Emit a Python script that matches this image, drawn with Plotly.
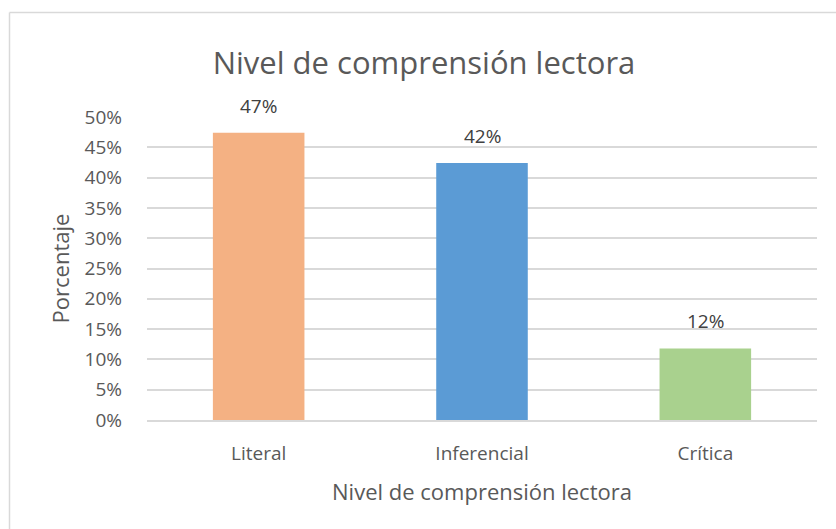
import plotly.graph_objects as go

categories = ["Literal", "Inferencial", "Crítica"]
values = [0.474, 0.424, 0.118]
labels = ["47%", "42%", "12%"]
colors = ["#F4B183", "#5B9BD5", "#A9D18E"]
y_ticks = [0, 0.05, 0.10, 0.15, 0.20, 0.25, 0.30, 0.35, 0.40, 0.45, 0.50]
y_tick_text = ["0%", "5%", "10%", "15%", "20%", "25%", "30%", "35%", "40%", "45%", "50%"]

FONT = "Open Sans, Noto Sans, sans-serif"
GREY = "#595959"

fig = go.Figure()
fig.add_trace(go.Bar(
    x=categories, y=values, marker=dict(color=colors, line=dict(width=0)),
    hoverinfo="skip", showlegend=False,
))

for c, v, t in zip(categories, values, labels):
    fig.add_annotation(x=c, y=v, text=t, showarrow=False, yanchor="middle", yshift=27,
                       font=dict(family=FONT, size=19, color="#404040"))

W, H = 836, 529
L, R, T, B = 147, 19, 117, 109
pw, ph = W - L - R, H - T - B

def px(x):
    return (x - L) / pw

def py(y):
    return (H - B - y) / ph

fig.add_shape(type="line", xref="paper", yref="paper", x0=px(9.5), x1=px(836), y0=py(12.5), y1=py(12.5),
              line=dict(color="#D9D9D9", width=1.5))
fig.add_shape(type="line", xref="paper", yref="paper", x0=px(9.5), x1=px(9.5), y0=py(12.5), y1=py(529),
              line=dict(color="#D9D9D9", width=1.5))

fig.update_layout(
    width=W, height=H,
    margin=dict(l=L, r=R, t=T, b=B, pad=0),
    paper_bgcolor="white", plot_bgcolor="white",
    bargap=0.59,
    title=dict(text="Nivel de comprensión lectora", x=(424) / W, xanchor="center",
               y=1 - 63 / H, yanchor="middle", font=dict(family=FONT, size=31, color=GREY)),
    font=dict(family=FONT, color=GREY),
    xaxis=dict(
        title=dict(text="Nivel de comprensión lectora", font=dict(family=FONT, size=22, color=GREY), standoff=20),
        tickfont=dict(family=FONT, size=19, color=GREY),
        showline=True, linecolor="#D9D9D9", linewidth=1.5,
        ticks="", ticklabelstandoff=15, showgrid=False,
    ),
    yaxis=dict(
        title=dict(text="Porcentaje", font=dict(family=FONT, size=22, color=GREY), standoff=8),
        range=[0, 0.5], tickvals=y_ticks, ticktext=y_tick_text,
        tickfont=dict(family=FONT, size=19, color=GREY),
        showgrid=True, gridcolor="#D9D9D9", gridwidth=1.5,
        zeroline=False, showline=False, ticks="", ticklabelstandoff=24,
    ),
)

fig.write_html("out.html", config={"displayModeBar": False},
               post_script="document.body.style.margin='0px';")
